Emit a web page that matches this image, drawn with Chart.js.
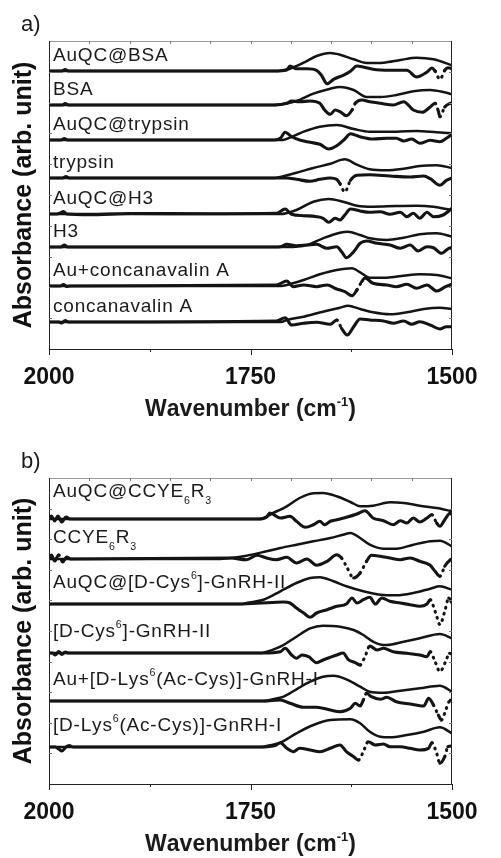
<!DOCTYPE html>
<html>
<head>
<meta charset="utf-8">
<script src="https://cdn.jsdelivr.net/npm/chart.js@4.4.1/dist/chart.umd.min.js"></script>
<style>
  html, body { margin: 0; padding: 0; background: #fff; }
  #wrap { position: relative; width: 501px; height: 858px; }
  canvas { position: absolute; left: 0; }
  #chartA { top: 0; }
  #chartB { top: 430px; }
</style>
</head>
<body>
<div id="wrap">
  <canvas id="chartA" width="501" height="430"></canvas>
  <canvas id="chartB" width="501" height="428"></canvas>
</div>
<script>
// sample names (^ = superscript char, _ = subscript char)
const labelsA = ['AuQC@BSA', 'BSA', 'AuQC@trypsin', 'trypsin', 'AuQC@H3', 'H3', 'Au+concanavalin A', 'concanavalin A'];
const labelsB = ['AuQC@CCYE_6R_3', 'CCYE_6R_3', 'AuQC@[D-Cys^6]-GnRH-II', '[D-Cys^6]-GnRH-II',
  'Au+[D-Lys^6(Ac-Cys)]-GnRH-I', '[D-Lys^6(Ac-Cys)]-GnRH-I'];

// vertical offset of each stacked spectrum (arb. units)
const offsetsA = [278, 244, 209, 171, 135, 102, 63, 27];
const offsetsB = [265, 225, 180, 131, 83, 37];

// wavenumber ticks
const xTicks = [2000, 1750, 1500];
const xMinor = [1875, 1625];
const xTop = [1950, 1900, 1850, 1800, 1750, 1700, 1650, 1600, 1550];

// panel a: absorbance (abs) and derivative (der) traces, [wavenumber, value]
const absA1 = [[2000,0],[1720,0],[1713,0.3],[1701,2.3],[1684,8.3],[1668,15],[1651,18],[1639,16.3],[1622,11.7],[1606,8],[1585,8.3],[1564,11],[1544,13.3],[1523,11.7],[1500,5.7]];
const derA1 = [[2000,0],[1984,0],[1980,1.5],[1976,0],[1720,0],[1705,1],[1701,5],[1693,2.3],[1680,2.3],[1668,0.7],[1662,-4.3],[1655,-12.7],[1647,-8.3],[1635,-4.3],[1626,-0.3],[1618,5],[1610,4],[1598,1.7],[1577,0.7],[1556,0.7],[1544,-6],[1531,-1],[1525,3],[1521,0],[1515,-8.3],[1509,0.7],[1505,3.3],[1500,2.3]];
const absA2 = [[2000,0],[1722,0],[1713,0.5],[1693,4],[1672,11.3],[1651,16.3],[1639,18],[1622,15],[1606,8],[1589,8],[1569,10],[1548,13.7],[1527,15],[1511,13],[1500,10.7]];
const derA2 = [[2000,0],[1983,0],[1980,1.5],[1976,0],[1720,0],[1705,1.7],[1699,4],[1689,3.3],[1676,4],[1664,1.7],[1658,-5],[1651,-9.3],[1645,-5],[1639,-6.7],[1631,-10.7],[1624,-5],[1620,1.7],[1612,5],[1602,3.3],[1589,1.7],[1573,0],[1560,3.3],[1548,-5],[1537,-7.3],[1527,-2],[1521,1.7],[1517,-6],[1515,-11.7],[1509,-2],[1502,1.7],[1500,2]];
const absA3 = [[2000,0],[1710,0],[1701,2.3],[1684,8.3],[1664,13.3],[1643,15],[1622,11],[1602,8.3],[1569,8.3],[1544,9],[1519,7.7],[1500,6.7]];
const derA3 = [[2000,0],[1985,0],[1981,1.5],[1977,0],[1720,0],[1713,1.7],[1707,7.7],[1699,3.3],[1689,0],[1676,-2.3],[1664,-4.3],[1653,-9],[1643,-5.7],[1633,1],[1626,6.3],[1614,3.3],[1598,1],[1581,1.7],[1569,1.7],[1560,-1],[1550,1],[1540,-3.3],[1527,-0.3],[1515,-1.7],[1507,1.7],[1500,5.7]];
const absA4 = [[2000,0],[1720,0],[1713,1],[1693,5.3],[1672,10],[1651,14.3],[1633,18.7],[1618,13.3],[1602,8.7],[1581,7.7],[1560,9.3],[1540,12],[1519,12.7],[1500,10]];
const derA4 = [[2000,0],[1983,0],[1979,1.5],[1975,0],[1715,0],[1705,0],[1693,-1.3],[1676,-3.3],[1664,-1.3],[1651,0],[1643,-1.3],[1639,-5.7],[1633,-14],[1626,-2.3],[1618,2.7],[1602,3.3],[1577,2],[1552,1],[1535,2],[1527,-0.7],[1515,-7.3],[1507,-2.3],[1500,0]];
const absA5 = [[2000,0],[1712,0],[1707,0.5],[1693,4],[1672,12.3],[1653,15],[1635,12.3],[1618,8.3],[1598,7.3],[1569,8],[1544,8.3],[1523,7.3],[1507,5],[1500,4]];
const derA5 = [[2000,0],[1990,0],[1986,1],[1982,2.5],[1978,0],[1950,-0.7],[1900,0.5],[1800,0.3],[1718,0.7],[1707,5],[1699,-0.3],[1684,-1.7],[1668,-2.7],[1660,-4.3],[1653,-8.3],[1645,-4.3],[1639,-6],[1633,-1],[1626,5],[1614,3],[1602,1.7],[1589,2.3],[1577,-0.3],[1564,1.7],[1556,-2.7],[1548,0.7],[1540,-4.3],[1531,1.7],[1523,-2.7],[1511,-1],[1500,5.7]];
const absA6 = [[2000,0],[1705,0],[1680,2],[1660,8.7],[1639,14.3],[1629,15.3],[1614,12],[1602,8.7],[1581,7],[1560,9.3],[1540,12.7],[1519,13.7],[1500,10.3]];
const derA6 = [[2000,0],[1985,0],[1981,2],[1977,0],[1720,0],[1713,0.3],[1705,2.7],[1693,1.3],[1680,2],[1668,2.7],[1655,-1.3],[1643,0.3],[1637,-4.7],[1631,-10.7],[1622,-4.7],[1614,3.7],[1606,6],[1593,3.7],[1577,2],[1564,-1.3],[1552,2],[1542,-4],[1531,0.3],[1523,-0.7],[1513,-6.3],[1504,-1.3],[1500,-0.7]];
const absA7 = [[2000,0],[1712,0],[1705,1],[1684,6],[1664,11.7],[1643,16],[1624,17.7],[1614,13.7],[1602,8.3],[1581,8.3],[1560,10.3],[1540,11.7],[1519,11],[1500,7.7]];
const derA7 = [[2000,0],[1986,0],[1982,1.5],[1978,-0.5],[1974,0],[1718,1],[1705,5],[1697,-0.7],[1684,1],[1668,-0.7],[1655,1],[1643,-3],[1633,-5.7],[1624,-9.7],[1618,-4],[1612,4.3],[1608,8],[1598,2.7],[1581,1],[1569,-0.7],[1556,1.7],[1544,-2.3],[1531,1],[1519,-5],[1508,-0.7],[1500,1.7]];
const absA8 = [[2000,0],[1712,0],[1705,2],[1684,5.3],[1660,10.3],[1639,14.3],[1629,16.3],[1614,13],[1598,9.7],[1577,7.7],[1556,9.7],[1535,13],[1515,14.3],[1500,13]];
const derA8 = [[2000,0],[1988,0],[1984,-1],[1980,1.5],[1976,0],[1718,1],[1707,4.3],[1699,-3],[1684,-1.3],[1668,-0.3],[1651,-2.3],[1643,2],[1637,-6.3],[1630,-13],[1622,-4.7],[1614,3],[1602,2],[1585,1],[1573,-1.3],[1560,1],[1550,-2.3],[1540,0.3],[1527,-3],[1515,-7],[1507,-4.7],[1500,-4.7]];

// panel b
const absB1 = [[2000,0],[1738,0],[1722,6],[1705,12.7],[1689,21],[1672,25.7],[1660,26],[1643,22.7],[1626,17],[1614,12.7],[1598,13.3],[1577,16.7],[1560,16],[1540,13.3],[1519,11],[1500,7.7]];
const derB1 = [[2000,0],[1997,3],[1993,-2],[1989,3],[1984,-3],[1979,2],[1974,0],[1740,0],[1730,2],[1726,6],[1713,1],[1701,2.7],[1693,-2.3],[1682,-8.3],[1672,-5.7],[1664,-2.3],[1658,-5.7],[1651,-2.3],[1643,-0.7],[1631,1.7],[1618,5],[1608,8.3],[1598,1],[1585,-1.7],[1573,-5.7],[1564,-1.7],[1556,-4],[1548,1],[1540,-3],[1531,1],[1525,4.3],[1519,-4],[1515,-7.3],[1509,-0.7],[1502,6],[1500,4.3]];
const absB2 = [[2000,0],[1790,0],[1775,1],[1755,3.3],[1734,7],[1713,11],[1693,14.3],[1672,17.7],[1651,21],[1635,24.3],[1626,26],[1614,21],[1602,14.3],[1585,10.3],[1569,10.3],[1548,14.3],[1527,17.7],[1515,18.3],[1500,12.7]];
const derB2 = [[2000,0],[1997,4],[1993,-2],[1988,4],[1983,-3],[1978,2],[1973,0],[1775,1],[1755,-0.7],[1742,3.7],[1730,1],[1718,-0.7],[1705,1.7],[1693,-4],[1680,0],[1668,-6.3],[1655,-2.3],[1643,4.3],[1637,1],[1631,-7.3],[1622,-19],[1614,-14],[1606,-2.3],[1600,3.7],[1589,2.7],[1577,1],[1564,-0.7],[1552,1],[1540,-2.3],[1527,-6.3],[1521,-12.3],[1515,-17.3],[1509,-7.3],[1502,-0.7],[1500,0]];
const absB3 = [[2000,0],[1760,0],[1755,1],[1734,4.3],[1713,12.7],[1693,21],[1676,26],[1664,26.7],[1647,22.7],[1631,17.7],[1610,12.7],[1589,9.3],[1569,8.7],[1548,11],[1527,15.3],[1515,17.7],[1500,14.3]];
const derB3 = [[2000,0],[1770,0],[1742,0.7],[1709,2],[1701,1],[1693,-4],[1684,-9],[1676,-13.3],[1668,-9],[1655,-5.7],[1643,-2.3],[1631,0],[1624,6],[1618,1],[1610,4.3],[1602,6.7],[1595,0],[1587,6],[1577,2.7],[1564,1],[1552,-0.7],[1540,-2.3],[1531,0],[1527,4.3],[1523,-2.3],[1519,-12.3],[1515,-20.7],[1509,-7.3],[1504,6],[1500,1]];
const absB4 = [[2000,0],[1738,0],[1734,0.3],[1713,6.3],[1693,16.3],[1676,24.7],[1660,27.3],[1639,26.3],[1622,23],[1610,18],[1598,11.3],[1585,8],[1581,8],[1560,11.3],[1540,14.7],[1515,19],[1500,14.7]];
const derB4 = [[2000,0],[1996,0],[1992,-2],[1988,1.5],[1984,-1.5],[1980,1],[1976,0],[1734,0],[1713,1.3],[1707,4.7],[1699,-2],[1693,-5.3],[1686,-2],[1678,-3.7],[1668,-9.7],[1660,-7],[1651,-4.3],[1643,-2],[1635,0],[1629,-6.3],[1620,-9.7],[1614,-12],[1608,-3.7],[1602,7],[1593,3],[1585,4.7],[1573,1.3],[1556,-0.3],[1540,-2],[1531,-3.7],[1527,1.3],[1521,-8.7],[1515,-18.7],[1508,-8.7],[1503,-0.3],[1500,-1]];
const absB5 = [[2000,0],[1730,0],[1726,1],[1709,4.3],[1693,11.7],[1676,19.3],[1660,24.3],[1647,25.3],[1631,21.7],[1614,14.3],[1602,9.3],[1585,8.3],[1564,10.3],[1540,12.7],[1515,15.3],[1500,9.3]];
const derB5 = [[2000,0],[1734,0],[1713,1],[1701,-2.3],[1684,-6.3],[1668,-6.3],[1651,-9],[1639,-10.7],[1626,-7.3],[1620,-2.3],[1614,-5],[1610,1],[1606,7.7],[1600,4.3],[1589,1.7],[1581,3.7],[1569,-0.7],[1552,-3],[1535,-5],[1529,2.7],[1523,-4],[1517,-14],[1513,-19],[1507,-7.3],[1502,1],[1500,-0.7]];
const absB6 = [[2000,0],[1734,0],[1730,1],[1713,4.3],[1693,13.7],[1672,22],[1651,27],[1626,27.7],[1614,23.7],[1602,15.3],[1589,10.3],[1577,9.7],[1556,12],[1535,15.3],[1515,19.7],[1500,13.7]];
const derB6 = [[2000,0],[1992,0],[1988,-2],[1984,-4],[1979,0],[1975,1.5],[1970,0],[1738,0],[1718,2],[1713,4.3],[1705,-1.3],[1697,-4.7],[1689,-1.3],[1676,-3],[1664,-4.7],[1651,-1.3],[1639,2],[1631,-4.7],[1622,-9.7],[1616,-13],[1610,-4.7],[1604,5.3],[1595,2],[1585,3],[1577,0.3],[1564,0.3],[1552,-1.3],[1540,-3],[1529,-1.3],[1525,4.3],[1519,-6.3],[1515,-16.3],[1509,-9.7],[1505,0.3],[1500,1]];

const absA = [absA1, absA2, absA3, absA4, absA5, absA6, absA7, absA8];
const derA = [derA1, derA2, derA3, derA4, derA5, derA6, derA7, derA8];
const absB = [absB1, absB2, absB3, absB4, absB5, absB6];
const derB = [derB1, derB2, derB3, derB4, derB5, derB6];

const FAMILY = '"Liberation Sans", Arial, Helvetica, sans-serif';
const INK = '#141414';

// steep parts of the derivative come out dotted, like the original plot
function dotted(ctx) {
  const dx = Math.abs(ctx.p1.x - ctx.p0.x);
  const dy = Math.abs(ctx.p1.y - ctx.p0.y);
  return (dy > 6 && dy > dx * 1.6) ? [0.8, 5.6] : undefined;
}

function buildSets(abs, der, offsets) {
  const sets = [];
  abs.forEach((pts, i) => {
    sets.push({
      data: der[i].map(p => ({ x: p[0], y: p[1] + offsets[i] })),
      borderColor: INK, borderWidth: 3.1, pointRadius: 0,
      cubicInterpolationMode: 'monotone', borderCapStyle: 'round', borderJoinStyle: 'round',
      segment: { borderDash: dotted }
    });
    sets.push({
      data: pts.map(p => ({ x: p[0], y: p[1] + offsets[i] })),
      borderColor: INK, borderWidth: 2.5, pointRadius: 0,
      cubicInterpolationMode: 'monotone', borderCapStyle: 'round', borderJoinStyle: 'round'
    });
  });
  return sets;
}

// text with single-character super/subscripts
function drawRich(ctx, text, x, y, size, weight, spacing, measureOnly) {
  let cx = x;
  for (let i = 0; i < text.length; i++) {
    let ch = text[i], mode = '';
    if ((ch === '^' || ch === '_') && i + 1 < text.length) { mode = ch; ch = text[i + 1]; i++; }
    const s = mode ? size * 0.56 : size;
    const dy = mode === '^' ? -size * 0.45 : mode === '_' ? size * 0.36 : 0;
    ctx.font = weight + ' ' + s + 'px ' + FAMILY;
    if (!measureOnly) ctx.fillText(ch, cx, y + dy);
    cx += ctx.measureText(ch).width + spacing;
  }
  return cx - x;
}

function seg(ctx, x0, y0, x1, y1) {
  ctx.beginPath(); ctx.moveTo(x0, y0); ctx.lineTo(x1, y1); ctx.stroke();
}

const decor = {
  id: 'decor',
  afterDraw(chart, args, opts) {
    const { ctx, chartArea: a, scales: { x, y } } = chart;
    ctx.save();
    ctx.lineWidth = 1;
    ctx.strokeStyle = '#9a9a9a';
    seg(ctx, a.left, a.top + 0.5, a.right, a.top + 0.5);
    ctx.strokeStyle = '#222';
    seg(ctx, a.left + 0.5, a.top, a.left + 0.5, a.bottom + 0.5);
    seg(ctx, a.right - 0.5, a.top, a.right - 0.5, a.bottom + 0.5);
    seg(ctx, a.left, a.bottom + 0.5, a.right, a.bottom + 0.5);
    // tick marks
    xTicks.forEach(v => { const p = Math.round(x.getPixelForValue(v)) + 0.5; seg(ctx, p, a.bottom, p, a.bottom + 6); });
    xMinor.forEach(v => { const p = Math.round(x.getPixelForValue(v)) + 0.5; seg(ctx, p, a.bottom, p, a.bottom + 3); });
    ctx.strokeStyle = '#777';
    xTop.forEach(v => { const p = Math.round(x.getPixelForValue(v)) + 0.5; seg(ctx, p, a.top, p, a.top + 3); });
    for (let k = 1; k < 10; k++) {
      const p = Math.round(y.getPixelForValue(y.max * k / 10)) + 0.5;
      seg(ctx, a.left, p, a.left + 3, p);
      seg(ctx, a.right - 3, p, a.right, p);
    }
    // sample names
    ctx.fillStyle = '#1a1a1a';
    ctx.textBaseline = 'alphabetic';
    ctx.textAlign = 'left';
    opts.labels.forEach((t, i) => {
      drawRich(ctx, t, a.left + 4, y.getPixelForValue(opts.offsets[i] + opts.lift[i]), 19, 'normal', 0.8);
    });
    // panel letter
    ctx.font = '22px ' + FAMILY;
    ctx.fillText(opts.letter, 21, a.top - 10);
    // x axis title
    const t = 'Wavenumber (cm^-^1)';
    const w = drawRich(ctx, t, 0, 0, 23, 'bold', 0, true);
    drawRich(ctx, t, (a.left + a.right) / 2 - w / 2, a.bottom + 67, 23, 'bold', 0);
    ctx.restore();
  }
};

function makeChart(id, abs, der, offsets, labels, lift, letter, top, yMax, xHeight) {
  return new Chart(document.getElementById(id), {
    type: 'line',
    data: { datasets: buildSets(abs, der, offsets) },
    options: {
      responsive: false,
      animation: false,
      devicePixelRatio: 1,
      layout: { padding: { top: top, right: 49, bottom: 0, left: 0 } },
      plugins: {
        legend: { display: false },
        tooltip: { enabled: false },
        decor: { labels: labels, offsets: offsets, lift: lift, letter: letter }
      },
      scales: {
        x: {
          type: 'linear', min: 1500, max: 2000, reverse: true,
          afterFit: s => { s.height = xHeight; },
          afterBuildTicks: s => { s.ticks = xTicks.map(v => ({ value: v })); },
          grid: { display: false },
          border: { display: false },
          ticks: {
            padding: 7, color: '#111', maxRotation: 0, autoSkip: false,
            font: { family: FAMILY, size: 23, weight: 'bold' },
            callback: v => String(v)
          }
        },
        y: {
          min: 0, max: yMax,
          afterFit: s => { s.width = 49; },
          grid: { display: false },
          border: { display: false },
          ticks: { display: false },
          title: {
            display: true, text: 'Absorbance (arb. unit)', color: '#111',
            font: { family: FAMILY, size: 25, weight: 'bold' },
            padding: { top: 9, bottom: 0 }
          }
        }
      }
    },
    plugins: [decor]
  });
}

makeChart('chartA', absA, derA, offsetsA, labelsA, [10, 10, 10, 10, 10, 10, 10, 10], 'a)', 41, 308, 81);
makeChart('chartB', absB, derB, offsetsB, labelsB, [22, 16, 16, 16, 16, 16], 'b)', 48, 306, 74);
</script>
</body>
</html>
